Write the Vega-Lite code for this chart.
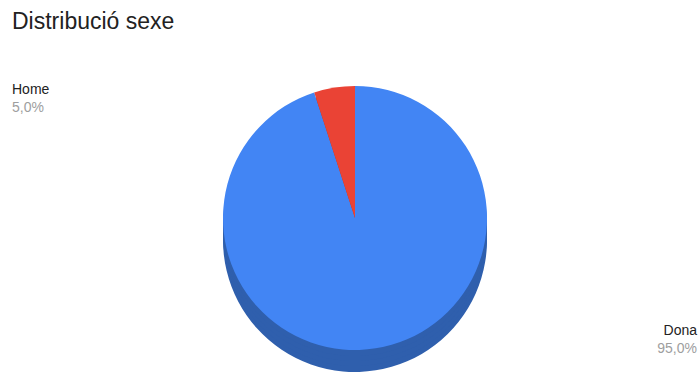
{
  "$schema": "https://vega.github.io/schema/vega-lite/v6.json",
  "width": 686,
  "height": 312,
  "autosize": {"type": "none"},
  "padding": {"left": 12, "top": 62, "right": 2, "bottom": 0},
  "background": "white",
  "view": {"stroke": null},
  "title": {
    "text": "Distribució sexe",
    "anchor": "start",
    "frame": "group",
    "font": "Liberation Sans",
    "fontSize": 23,
    "fontWeight": "normal",
    "color": "#222222",
    "offset": 28
  },
  "data": {
    "values": [
      {"category": "Dona", "value": 95, "label": "95,0%"},
      {"category": "Home", "value": 5, "label": "5,0%"}
    ]
  },
  "encoding": {
    "theta": {"field": "value", "type": "quantitative", "stack": true},
    "order": {"field": "value", "type": "quantitative", "sort": "descending"}
  },
  "layer": [
    {
      "mark": {"type": "arc", "outerRadius": 132, "yOffset": 22},
      "encoding": {"fill": {"condition": {"test": "datum.category === 'Home'", "value": "#a8342a"}, "value": "#2f5fad"}}
    },
    {
      "mark": {"type": "arc", "outerRadius": 132, "yOffset": 16},
      "encoding": {"fill": {"condition": {"test": "datum.category === 'Home'", "value": "#a8342a"}, "value": "#2f5fad"}}
    },
    {
      "mark": {"type": "arc", "outerRadius": 132, "yOffset": 11},
      "encoding": {"fill": {"condition": {"test": "datum.category === 'Home'", "value": "#a8342a"}, "value": "#2f5fad"}}
    },
    {
      "mark": {"type": "arc", "outerRadius": 132, "yOffset": 6},
      "encoding": {"fill": {"condition": {"test": "datum.category === 'Home'", "value": "#a8342a"}, "value": "#2f5fad"}}
    },
    {
      "mark": {"type": "arc", "outerRadius": 132},
      "encoding": {"fill": {"condition": {"test": "datum.category === 'Home'", "value": "#ea4335"}, "value": "#4285f4"}}
    },
    {
      "mark": {"type": "text", "radius": 124, "align": "left", "baseline": "alphabetic", "dx": -323.6, "dy": -1.5, "font": "Liberation Sans", "fontSize": 14, "color": "#222222"},
      "encoding": {"text": {"condition": {"test": "datum.category === 'Home'", "field": "category"}, "value": ""}}
    },
    {
      "mark": {"type": "text", "radius": 124, "align": "left", "baseline": "alphabetic", "dx": -323.6, "dy": 16.5, "font": "Liberation Sans", "fontSize": 14, "color": "#9e9e9e"},
      "encoding": {"text": {"condition": {"test": "datum.category === 'Home'", "field": "label"}, "value": ""}}
    },
    {
      "mark": {"type": "text", "radius": 124, "align": "right", "baseline": "alphabetic", "dx": 322.6, "dy": -5.5, "font": "Liberation Sans", "fontSize": 14, "color": "#222222"},
      "encoding": {"text": {"condition": {"test": "datum.category === 'Dona'", "field": "category"}, "value": ""}}
    },
    {
      "mark": {"type": "text", "radius": 124, "align": "right", "baseline": "alphabetic", "dx": 322.6, "dy": 12.5, "font": "Liberation Sans", "fontSize": 14, "color": "#9e9e9e"},
      "encoding": {"text": {"condition": {"test": "datum.category === 'Dona'", "field": "label"}, "value": ""}}
    }
  ]
}
